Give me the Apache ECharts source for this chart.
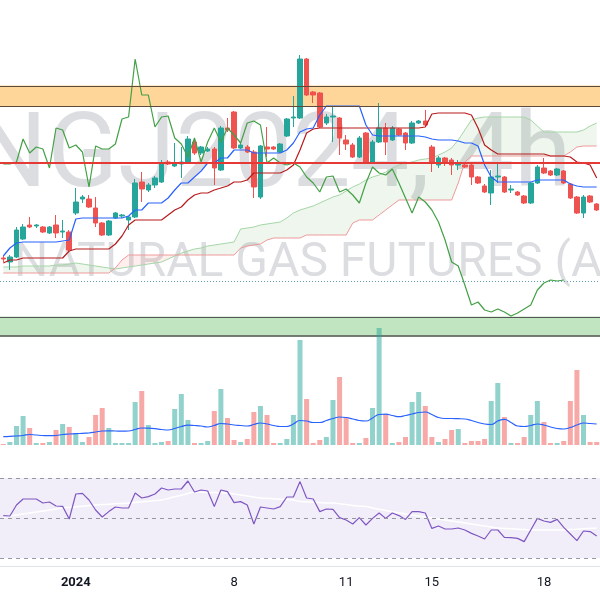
<!DOCTYPE html>
<html><head><meta charset="utf-8">
<script src="https://cdn.jsdelivr.net/npm/echarts@6/dist/echarts.min.js"></script>
<style>html,body{margin:0;padding:0;background:#fff}#c{width:600px;height:600px}</style>
</head><body><div id="c"></div>
<script>
// ---- Price data (4h bars, NGJ2024) ----
const opens = [2.42,2.38,2.43,2.61,2.75,2.74,2.73,2.67,2.75,2.68,
2.68,2.87,3.01,3.01,2.92,2.77,2.65,2.82,2.84,2.80,
2.83,3.18,3.10,3.15,3.18,3.38,3.34,3.36,3.38,3.58,
3.47,3.49,3.51,3.30,3.72,3.88,3.52,3.53,3.48,3.03,
3.53,3.53,3.48,3.64,3.82,3.82,4.41,4.08,4.07,3.77,
3.83,3.82,3.60,3.55,3.43,3.67,3.38,3.58,3.72,3.60,
3.71,3.67,3.57,3.77,3.79,3.53,3.35,3.42,3.40,3.35,
3.35,3.35,3.23,3.14,3.07,3.23,3.23,3.10,3.08,3.04,
2.97,3.17,3.32,3.29,3.25,3.29,3.16,3.03,2.87,3.04,2.96];
const closes = [2.41,2.43,2.70,2.73,2.73,2.75,2.68,2.73,2.67,2.69,
2.50,2.98,3.03,2.93,2.77,2.65,2.79,2.87,2.85,2.83,
3.17,3.11,3.15,3.22,3.37,3.36,3.36,3.38,3.61,3.47,
3.53,3.51,3.32,3.72,3.70,3.52,3.55,3.48,3.13,3.54,
3.51,3.51,3.56,3.81,3.83,4.41,4.05,4.05,3.73,3.83,
3.84,3.62,3.56,3.43,3.62,3.38,3.58,3.72,3.58,3.72,
3.65,3.57,3.77,3.79,3.75,3.37,3.42,3.37,3.35,3.37,
3.33,3.23,3.17,3.08,3.23,3.24,3.08,3.11,3.05,2.97,
3.17,3.33,3.27,3.25,3.31,3.17,3.02,2.87,3.03,2.98,2.90];
const lows = [2.38,2.30,2.42,2.60,2.72,2.72,2.67,2.66,2.62,2.62,
2.49,2.85,2.97,2.92,2.73,2.64,2.64,2.81,2.82,2.70,
2.82,2.98,3.08,3.12,3.17,3.35,3.33,3.22,3.37,3.45,
3.45,3.48,3.15,3.29,3.68,3.51,3.51,3.47,3.02,3.01,
3.43,3.50,3.47,3.63,3.73,3.81,4.04,3.97,3.72,3.75,
3.58,3.45,3.50,3.42,3.42,3.37,3.37,3.57,3.45,3.59,
3.64,3.50,3.56,3.76,3.74,3.28,3.32,3.34,3.25,3.30,
3.32,3.15,3.16,3.07,2.95,3.17,3.07,3.07,3.04,2.96,
2.96,3.16,3.26,3.24,3.24,3.16,3.01,2.86,2.82,2.97,2.89];
const highs = [2.44,2.45,2.73,2.76,2.83,2.76,2.74,2.74,2.85,2.80,
2.70,3.12,3.05,3.05,3.03,2.78,2.80,2.88,2.86,2.84,
3.21,3.28,3.17,3.24,3.40,3.40,3.57,3.53,3.64,3.62,
3.54,3.53,3.53,3.74,3.82,3.89,3.57,3.55,3.50,3.55,
3.73,3.54,3.57,3.82,4.04,4.45,4.42,4.09,4.08,3.86,
3.93,3.83,3.65,3.57,3.64,3.68,3.60,3.97,3.77,3.74,
3.72,3.68,3.79,3.80,3.90,3.55,3.44,3.43,3.42,3.40,
3.37,3.36,3.24,3.16,3.30,3.38,3.24,3.15,3.09,3.05,
3.18,3.35,3.42,3.30,3.32,3.30,3.17,3.04,3.05,3.05,2.97];
// closes of the bars after the visible window (seen through the lagging span)
const laterCloses = [2.78,2.60,2.38,2.34,2.15,1.95,1.98,1.90,1.88,1.91,1.88,1.84,1.87,1.91,1.95,2.10,2.17,2.20,2.19,2.20];
const CHIKOU_SHIFT = 25;

// ---- Ichimoku lines ----
const tenkan = [2.44,2.52,2.57,2.58,2.58,2.58,2.58,2.58,2.58,2.59,
2.60,2.81,2.82,2.82,2.82,2.82,2.82,2.82,2.82,2.84,
2.90,2.90,2.97,2.97,2.97,3.02,3.10,3.17,3.17,3.23,
3.29,3.37,3.37,3.42,3.42,3.50,3.50,3.50,3.47,3.47,
3.47,3.47,3.47,3.50,3.57,3.68,3.71,3.72,3.85,3.94,
3.94,3.94,3.94,3.94,3.94,3.75,3.65,3.64,3.64,3.64,
3.64,3.64,3.64,3.64,3.63,3.61,3.60,3.60,3.60,3.59,
3.57,3.57,3.54,3.35,3.23,3.18,3.18,3.18,3.18,3.18,
3.18,3.20,3.20,3.20,3.20,3.20,3.16,3.14,3.13,3.13,3.13];
const kijun = [2.37,2.40,2.40,2.42,2.42,2.42,2.42,2.42,2.42,2.42,
2.49,2.51,2.51,2.51,2.51,2.51,2.51,2.56,2.64,2.75,
2.80,2.80,2.80,2.80,2.80,2.85,2.90,2.93,3.00,3.05,
3.07,3.07,3.10,3.12,3.14,3.18,3.18,3.20,3.27,3.27,
3.27,3.27,3.27,3.30,3.35,3.50,3.67,3.71,3.72,3.72,
3.72,3.72,3.72,3.72,3.72,3.72,3.72,3.72,3.72,3.72,
3.72,3.72,3.72,3.72,3.73,3.86,3.87,3.87,3.87,3.87,
3.87,3.85,3.72,3.55,3.50,3.46,3.46,3.46,3.46,3.46,
3.46,3.46,3.46,3.44,3.44,3.44,3.43,3.38,3.37,3.35,3.22];
const senkouA = [2.33,2.33,2.33,2.34,2.34,2.34,2.34,2.34,2.35,2.35,
2.36,2.37,2.36,2.35,2.34,2.33,2.32,2.31,2.32,2.33,
2.34,2.35,2.36,2.37,2.38,2.41,2.44,2.47,2.49,2.51,
2.52,2.54,2.55,2.56,2.57,2.58,2.71,2.72,2.73,2.75,
2.76,2.77,2.78,2.82,2.87,2.90,2.92,2.94,2.97,3.00,
3.03,3.05,3.09,3.13,3.16,3.20,3.23,3.25,3.28,3.32,
3.35,3.37,3.38,3.40,3.41,3.42,3.45,3.48,3.52,3.60,
3.70,3.80,3.82,3.83,3.83,3.83,3.83,3.83,3.83,3.83,
3.80,3.74,3.68,3.68,3.68,3.68,3.68,3.68,3.70,3.74,3.77];
const senkouB = [2.27,2.27,2.27,2.27,2.27,2.27,2.27,2.27,2.27,2.27,
2.27,2.27,2.27,2.27,2.27,2.27,2.27,2.32,2.40,2.45,
2.45,2.45,2.45,2.45,2.45,2.45,2.45,2.45,2.45,2.45,
2.45,2.45,2.45,2.45,2.45,2.45,2.52,2.54,2.55,2.56,
2.60,2.62,2.62,2.62,2.62,2.62,2.65,2.65,2.65,2.65,
2.65,2.65,2.65,2.77,2.80,2.80,2.80,2.85,2.90,2.95,
3.00,3.00,3.00,3.00,3.00,3.00,3.00,3.00,3.00,3.17,
3.38,3.44,3.44,3.44,3.44,3.44,3.44,3.44,3.44,3.44,
3.44,3.44,3.44,3.44,3.44,3.44,3.48,3.53,3.54,3.54,3.54];

// ---- Volume ----
const volumes = [1,3,19,29,17,2,2,3,15,21,
18,12,3,8,30,37,17,2,2,2,
43,54,20,2,3,4,36,51,25,2,
2,4,34,56,27,5,3,6,33,39,
30,2,2,6,30,105,46,2,5,8,
45,68,28,2,2,7,37,117,31,2,
3,8,43,53,39,8,3,6,15,16,
2,4,4,6,44,62,28,2,2,8,
30,44,23,2,2,4,44,75,30,3,3];
const volumeMA = [8.3,8.7,9,9.5,10.5,10,9.5,9.3,9.5,10.5,
11,11.3,11.7,12,13,14,14.2,14,13.8,14,
15.5,17,16.8,16.3,15.5,15,16.5,18.5,19.8,19.5,
19,18,19.5,21.5,21,20,19.5,19,20.5,22,
21,19.5,18.5,18.5,21,24.5,24,22.5,22.5,24.5,
26.5,28,27.5,26,24.5,24,27,30.5,30.8,29.5,
28.3,29.5,31,32.5,33,30.5,27.5,26.5,26.5,26.3,
26,24.5,22.5,21,20.5,24,25.7,22.5,19,18.5,
19.5,21,20,18,16.5,16,17.5,20,22,21.5,21];

// ---- RSI ----
const rsi = [51.2,51,56.5,59.5,59.5,59.5,57.5,58,56,55.8,
49.5,62,62.3,59,54,50.5,53.2,55.5,55,55,
62.5,60,60.7,62,65,64,64.5,64.5,68.5,63,
64,63.5,55.7,64,63.2,57.7,58.2,56.5,47,55.5,
55,54.5,55.7,60.5,60.5,68.2,60,59.5,53.2,54.5,
54.3,50.2,49,47,50.2,46.5,49.8,52.5,49.8,52.5,
51.2,49.3,53.2,53.2,52.5,44.8,46,44.5,44.5,45,
44,42.3,41,39.5,44,44,40.3,40.2,39.8,38.2,
44,49.8,48.5,47.8,49.3,45.3,42,38.7,43.5,43.2,41];
const rsiMA = [50.5,51,51.5,52,52.5,53,53.5,54,54.5,55,
55.3,55.6,55.9,56.2,56.5,56.7,56.9,57.1,57.3,57.5,
57.8,58.1,58.4,58.7,59,59.8,60.6,61.4,62.2,63,
62.9,62.8,62.7,62.6,62.5,62,61.5,61,60.5,60,
59.8,59.6,59.4,59.2,59,58.2,58.1,57.9,57.7,57.5,
57.5,57.1,56.7,56.3,55.9,55.7,55,54.4,53.8,53.1,
52.5,52,51.5,51,50.5,50,49.5,49,48.5,48,
47.5,47,46.5,46,45.5,45,44.8,44.6,44.4,44.2,
44,44,44,44,44,44,44.2,44.4,44.6,44.8,45];
const rsiLevels = [70, 50, 30];

// ---- Levels / zones ----
const resistanceZone = [3.935, 4.145];
const supportZone = [1.635, 1.835];
const keyLevel = 3.37;
const priceLine = 2.19;

// ---- X-axis tick labels ----
const tickIndex = [11, 35, 52, 65, 82];
const tickText = ['2024', '8', '11', '15', '18'];

const N = opens.length;
const categories = opens.map((_, i) => 'bar' + i);
const candleData = opens.map((o, i) => [o, closes[i], lows[i], highs[i]]);
const chikou = [];
for (let i = 0; i < N; i++) {
  const j = i + CHIKOU_SHIFT;
  chikou.push(j < N ? closes[j] : (j - N < laterCloses.length ? laterCloses[j - N] : null));
}
const cloudBase = senkouA.map((a, i) => Math.min(a, senkouB[i]));
const cloudUp = senkouA.map((a, i) => Math.max(a - senkouB[i], 0));
const cloudDown = senkouA.map((a, i) => Math.max(senkouB[i] - a, 0));

const UP = '#26a69a', DOWN = '#ef5350';
const volData = volumes.map((v, i) => ({ value: v, itemStyle: { color: closes[i] >= opens[i] ? 'rgba(38,166,154,0.5)' : 'rgba(239,83,80,0.5)' } }));

const chart = echarts.init(document.getElementById('c'), null, { renderer: 'canvas' });
const hiddenX = (gi) => ({ type: 'category', gridIndex: gi, data: categories, show: false });
const ln = (name, data, color, width, extra) => Object.assign({
  name, type: 'line', data, symbol: 'none', xAxisIndex: 0, yAxisIndex: 0,
  lineStyle: { color, width }, z: 4, silent: true
}, extra || {});

chart.setOption({
  animation: false,
  backgroundColor: '#ffffff',
  graphic: [
    { type: 'text', x: -27, y: 160, z: 0, silent: true,
      style: { text: 'NGJ2024, 4h', font: '104px Roboto', fill: 'rgba(120,123,134,0.26)', align: 'left', verticalAlign: 'middle' } },
    { type: 'text', x: 14, y: 264, z: 0, silent: true,
      style: { text: 'NATURAL GAS FUTURES (APR 2024)', font: '48px Roboto', fill: 'rgba(120,123,134,0.26)', align: 'left', verticalAlign: 'middle' } }
  ],
  grid: [
    { left: 0, right: 0, top: 0, height: 450 },
    { left: 0, right: 0, top: 325, height: 120 },
    { left: 0, right: 0, top: 458, height: 108 }
  ],
  xAxis: [
    hiddenX(0), hiddenX(1),
    { type: 'category', gridIndex: 2, data: categories,
      axisLine: { show: true, lineStyle: { color: '#e0e3eb', width: 1 } },
      axisTick: { show: false }, splitLine: { show: false },
      axisLabel: {
        interval: (idx) => tickIndex.includes(idx),
        formatter: (val, idx) => { const k = tickIndex.indexOf(idx); if (k < 0) return ''; return k === 0 ? '{b|' + tickText[k] + '}' : tickText[k]; },
        color: '#131722', fontSize: 13, fontFamily: 'Roboto', margin: 10,
        rich: { b: { fontWeight: 'bold', fontSize: 13, fontFamily: 'Roboto', color: '#131722' } }
      } }
  ],
  yAxis: [
    { gridIndex: 0, min: 0.5, max: 5.0, show: false, splitLine: { show: false } },
    { gridIndex: 1, min: 0, max: 120, show: false, splitLine: { show: false } },
    { gridIndex: 2, min: 26, max: 80, show: false, splitLine: { show: false } }
  ],
  series: [
    ln('cloudBase', cloudBase, 'transparent', 0, { stack: 'cloud', lineStyle: { opacity: 0 }, z: 1 }),
    ln('cloudUp', cloudUp, 'transparent', 0, { stack: 'cloud', lineStyle: { opacity: 0 }, areaStyle: { color: 'rgba(67,160,71,0.13)' }, z: 1 }),
    ln('cloudDown', cloudDown, 'transparent', 0, { stack: 'cloud', lineStyle: { opacity: 0 }, areaStyle: { color: 'rgba(244,67,54,0.12)' }, z: 1 }),
    ln('senkouA', senkouA, '#a5d6a7', 1, { z: 2 }),
    ln('senkouB', senkouB, '#ef9a9a', 1, { z: 2 }),
    {
      name: 'price', type: 'candlestick', xAxisIndex: 0, yAxisIndex: 0, data: candleData, barWidth: 5, z: 3,
      itemStyle: { color: UP, color0: DOWN, borderColor: UP, borderColor0: DOWN, borderWidth: 1 },
      markArea: { silent: true, data: [
        [{ yAxis: resistanceZone[0], itemStyle: { color: '#ffd699' } }, { yAxis: resistanceZone[1] }],
        [{ yAxis: supportZone[0], itemStyle: { color: '#c1e5c0' } }, { yAxis: supportZone[1] }]
      ] },
      markLine: { silent: true, symbol: 'none', label: { show: false }, data: [
        { yAxis: resistanceZone[0], lineStyle: { color: '#5d4a3a', width: 1.2, type: 'solid' } },
        { yAxis: resistanceZone[1], lineStyle: { color: '#5d4a3a', width: 1.2, type: 'solid' } },
        { yAxis: supportZone[0], lineStyle: { color: '#555555', width: 1.5, type: 'solid' } },
        { yAxis: supportZone[1], lineStyle: { color: '#555555', width: 1.2, type: 'solid' } },
        { yAxis: keyLevel, lineStyle: { color: '#e53935', width: 2, type: 'solid' } },
        { yAxis: priceLine, lineStyle: { color: '#5f9fae', width: 1, type: [1, 2] } }
      ] }
    },
    ln('chikou', chikou, '#43a047', 1.2),
    ln('kijun', kijun, '#b71c1c', 1.2),
    ln('tenkan', tenkan, '#2962ff', 1.2),
    { name: 'volume', type: 'bar', xAxisIndex: 1, yAxisIndex: 1, data: volData, barWidth: 5, z: 5, silent: true },
    { name: 'volumeMA', type: 'line', xAxisIndex: 1, yAxisIndex: 1, data: volumeMA, symbol: 'none', smooth: true,
      lineStyle: { color: '#2962ff', width: 1.2 }, z: 6, silent: true },
    { name: 'rsi', type: 'line', xAxisIndex: 2, yAxisIndex: 2, data: rsi, symbol: 'none',
      lineStyle: { color: '#7e57c2', width: 1.2 }, z: 4, silent: true,
      markArea: { silent: true, data: [[{ yAxis: rsiLevels[2], itemStyle: { color: 'rgba(126,87,194,0.1)' } }, { yAxis: rsiLevels[0] }]] },
      markLine: { silent: true, symbol: 'none', label: { show: false },
        lineStyle: { color: '#9598a1', width: 1, type: [4, 4] },
        data: rsiLevels.map(v => ({ yAxis: v })) } },
    { name: 'rsiMA', type: 'line', xAxisIndex: 2, yAxisIndex: 2, data: rsiMA, symbol: 'none', smooth: true,
      lineStyle: { color: '#ffffff', width: 1.5 }, z: 3, silent: true }
  ]
});
</script>
</body></html>
